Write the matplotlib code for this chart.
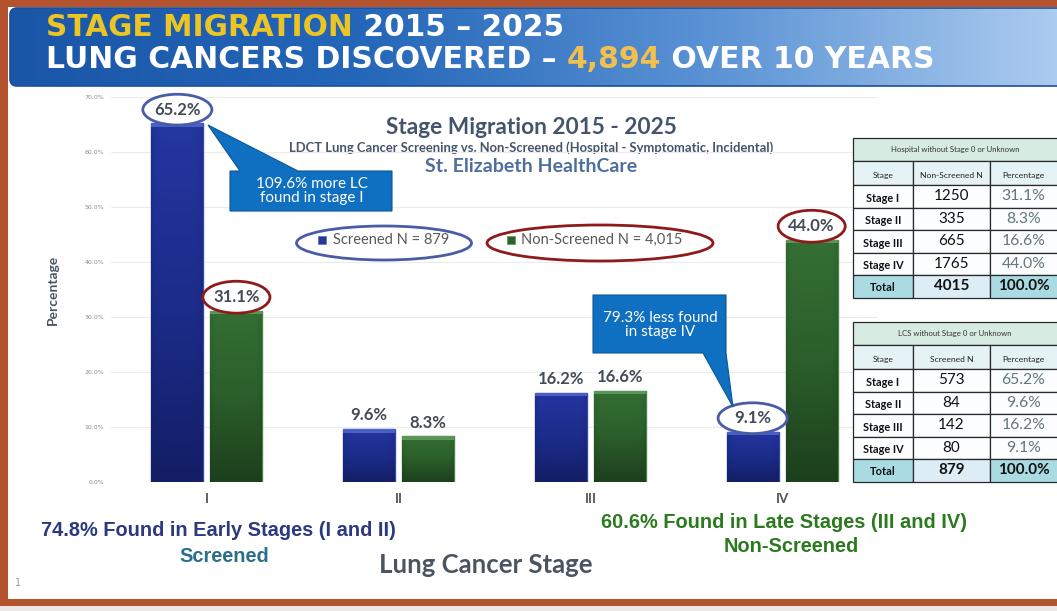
import matplotlib
matplotlib.use("Agg")
import matplotlib.pyplot as plt
import numpy as np
from matplotlib.patches import Rectangle, Ellipse, Polygon, FancyBboxPatch
from matplotlib.colors import LinearSegmentedColormap

# ---- data ----
stages = ["I", "II", "III", "IV"]
screened_pct = [65.2, 9.6, 16.2, 9.1]
non_screened_pct = [31.1, 8.3, 16.6, 44.0]
table_stages = ["Stage I", "Stage II", "Stage III", "Stage IV"]
screened_n = [573, 84, 142, 80]
non_screened_n = [1250, 335, 665, 1765]
screened_total = 879
non_screened_total = 4015
y_ticks = [0, 10, 20, 30, 40, 50, 60, 70]
circled_screened = [0, 3]      # stages whose screened label is circled
circled_non_screened = [0, 3]

W, H = 1057, 611
CAL = ["Lato", "DejaVu Sans"]
ARIAL = ["Liberation Sans", "DejaVu Sans"]

fig = plt.figure(figsize=(W / 100, H / 100), dpi=100)
fig.patch.set_facecolor("white")

# background layer in pixel coordinates
bg = fig.add_axes([0, 0, 1, 1], zorder=0)
bg.set_xlim(0, W)
bg.set_ylim(H, 0)
bg.axis("off")

# slide frame
brown = "#b5532f"
bg.add_patch(Rectangle((0, 0), W, 7, fc=brown, ec="none"))
bg.add_patch(Rectangle((0, 0), 8, 606, fc=brown, ec="none"))
bg.add_patch(Rectangle((0, 599), W, 7, fc=brown, ec="none"))
bg.add_patch(Rectangle((0, 606), W, 5, fc="#ebe7e7", ec="none"))

# title banner with gradient
banner = FancyBboxPatch((10, 8), W, 78, boxstyle="round,pad=0,rounding_size=7",
                        fc="none", ec="#1d4f95", lw=1.2, zorder=2)
bg.add_patch(banner)
cmap_banner = LinearSegmentedColormap.from_list("banner", ["#1a56a8", "#2466b8", "#5a92d4", "#abcbef"])
grad = np.linspace(0, 1, 256).reshape(1, -1)
im = bg.imshow(grad, extent=(10, W, 86, 8), cmap=cmap_banner, aspect="auto", zorder=1)
im.set_clip_path(banner)


def chain(parts, x, y, size):
    prev = None
    for s, c in parts:
        if prev is None:
            prev = bg.text(x, y, s, color=c, fontsize=size, fontweight="bold",
                           family="DejaVu Sans", ha="left", va="center", zorder=3)
        else:
            prev = bg.annotate(s, xy=(1, 0), xycoords=prev, color=c, fontsize=size,
                               fontweight="bold", family="DejaVu Sans", ha="left", va="bottom", zorder=3)


yellow = "#ecc424"
chain([("STAGE MIGRATION", yellow), (" 2015 \u2013 2025", "white")], 46, 27, 21.3)
chain([("LUNG CANCERS DISCOVERED \u2013 ", "white"), ("4,894", "#f2c04c"),
       (" OVER 10 YEARS", "white")], 46, 60, 21.5)

# ---- chart ----
ax = fig.add_axes([111 / W, (H - 482) / H, 767 / W, 385 / H], zorder=1)
ax.patch.set_alpha(0)
x = np.arange(len(stages))
bw = 0.271
off = 0.154
bars_s = ax.bar(x - off, screened_pct, bw, color="#1c2c8a", edgecolor="#3a4cae", lw=1.0, zorder=3)
bars_n = ax.bar(x + off, non_screened_pct, bw, color="#2c632c", edgecolor="#4a864a", lw=1.0, zorder=3)


def shade(bar, colors, hi):
    bx, by = bar.get_xy()
    bwid, bh = bar.get_width(), bar.get_height()
    cm = LinearSegmentedColormap.from_list("s", colors)
    v = np.linspace(0, 1, 200).reshape(-1, 1)
    hz = 1 - 0.3 * np.abs(np.linspace(-1, 1, 50)) ** 8
    img = ax.imshow(v * hz, extent=(bx, bx + bwid, by, by + bh), origin="lower",
                    cmap=cm, vmin=0, vmax=1, aspect="auto", zorder=3.5)
    img.set_clip_path(bar)
    ax.add_patch(Rectangle((bx, by + bh - 0.6), bwid, 0.6, fc=hi, ec="none", zorder=4))


for b in bars_s:
    shade(b, ["#131e66", "#1c2c8a", "#2436a0"], "#4a5ec6")
for b in bars_n:
    shade(b, ["#1d3f1d", "#2b5f2b", "#346f34"], "#5a965a")

ax.set_xlim(-0.5, 3.5)
ax.set_ylim(0, 70)
ax.set_yticks(y_ticks)
ax.set_yticklabels([f"{t:.1f}%" for t in y_ticks], fontsize=4.5, color="#8a8a8a")
ax.set_xticks(x)
ax.set_xticklabels(stages, fontsize=9.5, fontweight="bold", color="#505050", family=CAL)
ax.tick_params(axis="both", length=0)
ax.tick_params(axis="y", pad=5)
ax.tick_params(axis="x", pad=8)
for sp in ax.spines.values():
    sp.set_visible(False)
ax.grid(axis="y", color="#ececec", lw=0.8, zorder=0)
ax.set_axisbelow(True)

ax.set_ylabel("Percentage", fontsize=10, fontweight="bold", color="#4a5560", family=CAL)
ax.yaxis.set_label_coords(-0.068, 0.5)
ax.set_xlabel("Lung Cancer Stage", fontsize=18.5, fontweight="bold", color="#4a5560", family=CAL)
ax.xaxis.set_label_coords(0.488, -0.185)

# value labels, some circled
lab_kw = dict(ha="center", va="center", fontsize=12, fontweight="bold", color="#434b55", family=CAL, zorder=6)
for i, v in enumerate(screened_pct):
    ax.text(x[i] - off, v + 2.5, f"{v:.1f}%", **lab_kw)
    if i in circled_screened:
        ax.add_patch(Ellipse((x[i] - off, v + 2.5), 0.36, 5.6, fc="white", ec="#4a5ca8",
                             lw=2, zorder=5, clip_on=False))
for i, v in enumerate(non_screened_pct):
    ax.text(x[i] + off, v + 2.5, f"{v:.1f}%", **lab_kw)
    if i in circled_non_screened:
        ax.add_patch(Ellipse((x[i] + off, v + 2.5), 0.35, 5.8, fc="white", ec="#8e1b1b",
                             lw=2, zorder=5, clip_on=False))

# chart titles
bg.text(531, 128, "Stage Migration 2015 - 2025", ha="center", va="center", fontsize=16.3,
        fontweight="bold", color="#44546a", family=CAL)
bg.text(531, 148, "LDCT Lung Cancer Screening vs. Non-Screened (Hospital - Symptomatic, Incidental)",
        ha="center", va="center", fontsize=9.4, fontweight="bold", color="#44546a", family=CAL)
bg.text(531, 166, "St. Elizabeth HealthCare", ha="center", va="center", fontsize=14,
        fontweight="bold", color="#4f6e9e", family=CAL)

# ---- overlay: legend, callouts, tables ----
top = fig.add_axes([0, 0, 1, 1], zorder=2)
top.set_xlim(0, W)
top.set_ylim(H, 0)
top.axis("off")

top.add_patch(Ellipse((384, 243), 175, 34, fc="none", ec="#4a5ca8", lw=2))
top.add_patch(Ellipse((600, 243), 226, 36, fc="none", ec="#8e1b1b", lw=2))
top.add_patch(Rectangle((318, 236), 8, 8, fc="#26389a", ec="#6a78c0", lw=0.6))
top.add_patch(Rectangle((507, 236), 8, 8, fc="#2c632c", ec="#6a9a6a", lw=0.6))
top.text(333, 240, f"Screened N = {screened_total}", ha="left", va="center", fontsize=10.5,
         color="#595959", family=CAL)
top.text(521, 240, f"Non-Screened N = {non_screened_total:,}", ha="left", va="center", fontsize=10.5,
         color="#595959", family=CAL)

call_c = "#0f6fc0"
top.add_patch(Polygon([(230, 171), (240, 171), (208, 125), (298, 171), (392, 171),
                       (392, 211), (230, 211)], closed=True, fc=call_c, ec="#0b5897", lw=0.8))
top.text(312, 191, "109.6% more LC\nfound in stage I", ha="center", va="center", fontsize=11,
         color="white", family=CAL, linespacing=1.05)
top.add_patch(Polygon([(593, 295), (726, 295), (726, 353), (733, 407), (703, 353),
                       (593, 353)], closed=True, fc=call_c, ec="#0b5897", lw=0.8))
top.text(660, 325, "79.3% less found\nin stage IV", ha="center", va="center", fontsize=11,
         color="white", family=CAL, linespacing=1.05)


def draw_table(y0, title, count_head, counts, total):
    xs = [853, 913, 990, 1060]
    hh, ch, rh = 23, 24, 22.5
    pcts = [100 * c / total for c in counts]
    line = dict(ec="#2a2a2a", lw=0.9)
    top.add_patch(Rectangle((xs[0], y0), xs[-1] - xs[0], hh, fc="#d6ebe1", **line))
    top.text((xs[0] + 1057) / 2, y0 + hh / 2, title, ha="center", va="center", fontsize=5.6,
             color="#333333", family=CAL)
    y = y0 + hh
    for j, t in enumerate(["Stage", count_head, "Percentage"]):
        top.add_patch(Rectangle((xs[j], y), xs[j + 1] - xs[j], ch, fc="#e6f3f6", **line))
        top.text((xs[j] + min(xs[j + 1], 1057)) / 2, y + ch * 0.62, t, ha="center", va="center",
                 fontsize=6.1, color="#222222", family=CAL)
    y += ch
    for r in range(len(counts)):
        for j in range(3):
            top.add_patch(Rectangle((xs[j], y), xs[j + 1] - xs[j], rh, fc="#fbfdfe", **line))
        top.text((xs[0] + xs[1]) / 2, y + rh * 0.58, table_stages[r], ha="center", va="center",
                 fontsize=7.8, fontweight="bold", color="#111111", family=CAL)
        top.text((xs[1] + xs[2]) / 2, y + rh * 0.5, f"{counts[r]}", ha="center", va="center",
                 fontsize=11, color="#111111", family=CAL)
        top.text((xs[2] + 1057) / 2, y + rh * 0.5, f"{pcts[r]:.1f}%", ha="center", va="center",
                 fontsize=11.3, color="#667777", family=CAL)
        y += rh
    fills = ["#aadbe3", "#dcedf5", "#aadbe3"]
    for j in range(3):
        top.add_patch(Rectangle((xs[j], y), xs[j + 1] - xs[j], rh, fc=fills[j], **line))
    top.text((xs[0] + xs[1]) / 2, y + rh * 0.55, "Total", ha="center", va="center",
             fontsize=8, fontweight="bold", color="#111111", family=CAL)
    top.text((xs[1] + xs[2]) / 2, y + rh * 0.5, f"{total}", ha="center", va="center",
             fontsize=11, fontweight="bold", color="#111111", family=CAL)
    top.text((xs[2] + 1057) / 2, y + rh * 0.5, "100.0%", ha="center", va="center",
             fontsize=11, fontweight="bold", color="#111111", family=CAL)


draw_table(138, "Hospital without Stage 0 or Unknown", "Non-Screened N", non_screened_n, non_screened_total)
draw_table(322, "LCS without Stage 0 or Unknown", "Screened N", screened_n, screened_total)

# bottom summary text (sums of the stage percentages)
early = screened_pct[0] + screened_pct[1]
late = non_screened_pct[2] + non_screened_pct[3]
bg.text(218, 531, f"{early:.1f}% Found in Early Stages (I and II)", ha="center", va="center",
        fontsize=14.4, fontweight="bold", color="#2b3a80", family=ARIAL)
bg.text(224, 557, "Screened", ha="center", va="center", fontsize=14.4, fontweight="bold",
        color="#2b6f8f", family=ARIAL)
bg.text(784, 522, f"{late:.1f}% Found in Late Stages (III and IV)", ha="center", va="center",
        fontsize=14.4, fontweight="bold", color="#2b7a1f", family=ARIAL)
bg.text(791, 546, "Non-Screened", ha="center", va="center", fontsize=14.4, fontweight="bold",
        color="#2b7a1f", family=ARIAL)
bg.text(18, 583, "1", ha="center", va="center", fontsize=7, color="#9a9a9a")

fig.savefig("out.png", dpi=100)
